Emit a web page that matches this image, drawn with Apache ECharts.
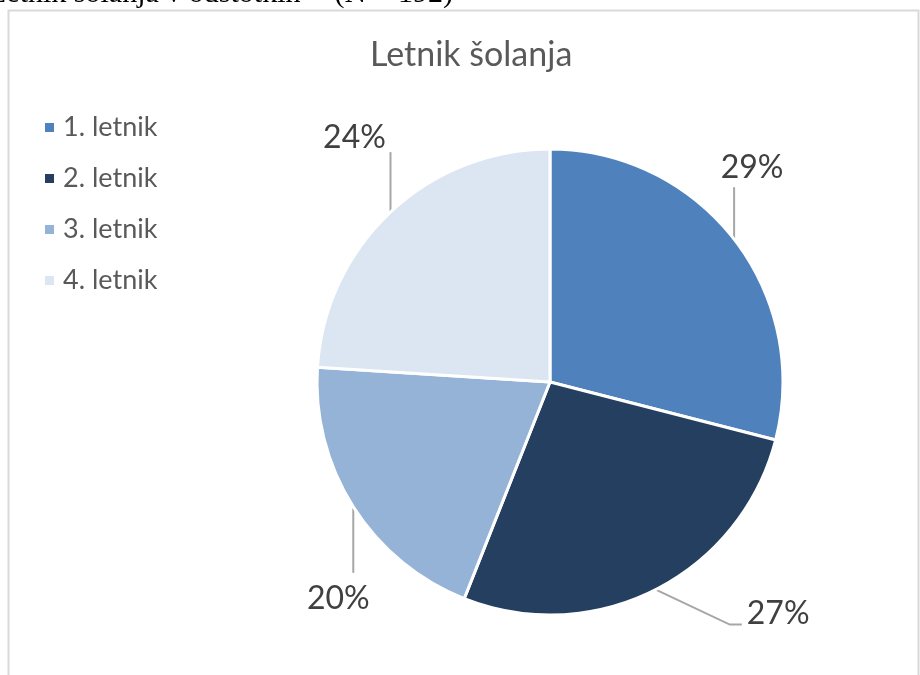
<!DOCTYPE html>
<html>
<head>
<meta charset="utf-8">
<script src="https://cdn.jsdelivr.net/npm/echarts@6/dist/echarts.min.js"></script>
<style>
  html, body { margin: 0; padding: 0; background: #ffffff; }
  #chart { width: 920px; height: 675px; }
</style>
</head>
<body>
<div id="chart"></div>
<script>
// Letnik šolanja – delež anketirancev po letniku (N = 192)
const categories = ['1. letnik', '2. letnik', '3. letnik', '4. letnik'];
const shares = [29, 27, 20, 24];
const sliceColors = ['#4f81bd', '#243f60', '#95b3d7', '#dce6f2'];

const captionText = 'Letnik šolanja v odstotkih';
const captionN = '(N = 192)';
const chartTitle = 'Letnik šolanja';

// leader-line shape per slice: first bend relative to the slice edge,
// optional horizontal tail, and label anchor relative to the line end
const leader = [
  { bend: [0, -52], tail: null, label: [18, -4], align: 'center', vAlign: 'bottom' },
  { bend: [74, 35], tail: [12, 0], label: [5, -11], align: 'left', vAlign: 'middle' },
  { bend: [0, 66], tail: null, label: [-15, 10], align: 'center', vAlign: 'top' },
  { bend: [0, -60], tail: null, label: [-36, 2], align: 'center', vAlign: 'bottom' }
];

const chart = echarts.init(document.getElementById('chart'), null, { renderer: 'canvas' });

const labelFont = 'Lato, "Open Sans", sans-serif';

chart.setOption({
  backgroundColor: '#ffffff',
  animation: false,
  title: {
    text: chartTitle,
    left: 365,
    top: 33,
    textStyle: { fontFamily: labelFont, fontSize: 34, fontWeight: 'normal', color: '#595959' }
  },
  legend: {
    orient: 'vertical',
    left: 38,
    top: 109,
    icon: 'rect',
    itemWidth: 11,
    itemHeight: 11,
    itemGap: 24,
    data: categories,
    textStyle: {
      fontFamily: labelFont,
      fontSize: 27,
      lineHeight: 27,
      color: '#595959',
      padding: [0, 0, 0, 3]
    }
  },
  graphic: [
    {
      type: 'rect',
      shape: { x: 8.5, y: 10.5, width: 910, height: 700 },
      style: { fill: 'none', stroke: '#d9d9d9', lineWidth: 2 },
      silent: true
    },
    {
      type: 'text',
      left: -12,
      top: -21,
      style: { text: captionText, font: '30px "Liberation Serif", serif', fill: '#000000' },
      silent: true
    },
    {
      type: 'text',
      right: 467,
      top: -21,
      style: { text: captionN, font: '30px "Liberation Serif", serif', fill: '#000000' },
      silent: true
    }
  ],
  series: [{
    type: 'pie',
    center: [550, 382],
    radius: 233,
    startAngle: 90,
    clockwise: true,
    avoidLabelOverlap: false,
    itemStyle: { borderColor: '#ffffff', borderWidth: 3 },
    label: {
      show: true,
      position: 'outside',
      formatter: '{d}%',
      fontFamily: labelFont,
      fontSize: 32,
      color: '#404040'
    },
    labelLine: {
      show: true,
      length: 20,
      length2: 10,
      lineStyle: { color: '#a6a6a6', width: 2 }
    },
    labelLayout: function (params) {
      const cfg = leader[params.dataIndex];
      const p0 = params.labelLinePoints[0];
      const p1 = [p0[0] + cfg.bend[0], p0[1] + cfg.bend[1]];
      const pts = [p0, p1];
      let end = p1;
      if (cfg.tail) {
        end = [p1[0] + cfg.tail[0], p1[1] + cfg.tail[1]];
        pts.push(end);
      } else {
        pts.push(p1.slice());
      }
      return {
        x: end[0] + cfg.label[0],
        y: end[1] + cfg.label[1],
        align: cfg.align,
        verticalAlign: cfg.vAlign,
        labelLinePoints: pts
      };
    },
    emphasis: { disabled: true },
    data: categories.map((name, i) => ({
      name: name,
      value: shares[i],
      itemStyle: { color: sliceColors[i] }
    }))
  }]
});
</script>
</body>
</html>
